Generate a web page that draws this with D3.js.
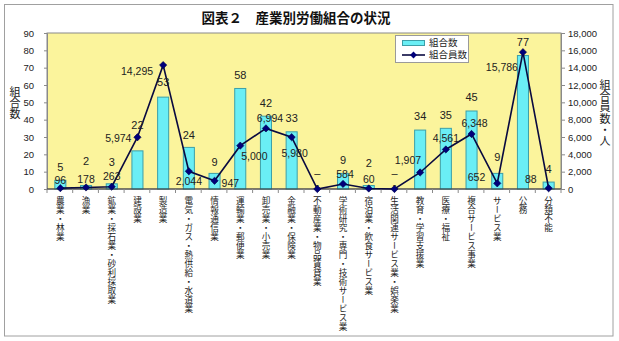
<!DOCTYPE html>
<html><head><meta charset="utf-8">
<script src="https://cdn.jsdelivr.net/npm/d3@7"></script>
<style>
html,body{margin:0;padding:0;background:#fff;}
svg{display:block;}
.cjk{font-family:"Noto Sans CJK JP","Noto Sans CJK SC",sans-serif;}
.num{font-family:"Liberation Sans",Arial,sans-serif;}
.vt{writing-mode:vertical-rl;text-orientation:upright;}
</style></head>
<body>
<svg id="c" width="619" height="341"></svg>
<script>
// ---- data ----
const title = "図表２　産業別労働組合の状況";
const categories = ["農業・林業","漁業","鉱業・採石業・砂利採取業","建設業","製造業","電気・ガス・熱供給・水道業","情報通信業","運輸業・郵便業","卸売業・小売業","金融業・保険業","不動産業・物品賃貸業","学術研究・専門・技術サービス業","宿泊業・飲食サービス業","生活関連サービス業・娯楽業","教育・学習支援業","医療・福祉","複合サービス事業","サービス業","公務","分類不能"];
const unions = [5,2,3,22,53,24,9,58,42,33,0,9,2,0,34,35,45,9,77,4];
const members = [96,178,263,5974,14295,2044,947,5000,6994,5980,0,584,60,0,1907,4561,6348,652,15786,88];
const leftTicks = [0,10,20,30,40,50,60,70,80,90];
const rightTicks = [0,2000,4000,6000,8000,10000,12000,14000,16000,18000];
const seriesNames = ["組合数","組合員数"];
const leftTitle = "組合数";
const rightTitle = "組合員数・人";

// ---- label layout (not data) ----
// member label: [anchor, dx, dy]
const memberLabelLayout = [["middle",0,-7],["middle",0,-7],["middle",0,-10],["end",-6,2],["end",-10,7],["middle",0,11],["start",7,3],["start",1,12],["middle",4,-9],["middle",3,17],["middle",0,-4],["middle",2,-9],["middle",0,-8],["middle",0,-4],["end",1,-11],["middle",0,-10],["middle",3,-10],["end",-12,-5],["end",-5,16],["end",-12,-8]];
const countLabelLift = [12,23,21,25,14,11,10,12.5,12,13,15,12,21,15,13,12,13,15,12.5,12];

const svg = d3.select("#c");
const L = 47, R = 561, T = 33, B = 189;

// outer border
svg.append("rect").attr("x",4.5).attr("y",4.5).attr("width",608.5).attr("height",331.5)
  .attr("fill","#fff").attr("stroke","#a0a0a0");

// title
svg.append("text").attr("class","cjk").attr("x",296).attr("y",23).attr("text-anchor","middle")
  .attr("font-size",13.5).attr("font-weight","bold").attr("fill","#111").text(title);

const x = d3.scaleBand().domain(categories).range([L,R]).paddingInner(0.57).paddingOuter(0.285);
const yL = d3.scaleLinear().domain([0,90]).range([B,T]);
const yR = d3.scaleLinear().domain([0,18000]).range([B,T]);

// plot area
svg.append("rect").attr("x",L).attr("y",T).attr("width",R-L).attr("height",B-T)
  .attr("fill","#fbf49c").attr("stroke","#8a8a8a");

// bars
svg.append("g").selectAll("rect").data(categories).join("rect")
  .attr("x",d=>x(d)+0.5).attr("width",x.bandwidth())
  .attr("y",(d,i)=>yL(unions[i])).attr("height",(d,i)=>B-yL(unions[i]))
  .attr("fill","#6aeef5").attr("stroke","#3d9fa8").attr("stroke-width",1);

// axes
const gl = svg.append("g").attr("transform",`translate(${L},0)`)
  .call(d3.axisLeft(yL).tickValues(leftTicks).tickSize(3).tickPadding(10));
const gr = svg.append("g").attr("transform",`translate(${R},0)`)
  .call(d3.axisRight(yR).tickValues(rightTicks).tickSize(4).tickPadding(3).tickFormat(d3.format(",")));
[gl,gr].forEach(g=>{
  g.select(".domain").attr("stroke","#8a8a8a");
  g.selectAll(".tick line").attr("stroke","#8a8a8a");
  g.selectAll(".tick text").attr("class","num").attr("font-size",9.5).attr("fill","#222");
});
gl.selectAll(".tick text").attr("text-anchor","end");

// x axis
const gx = svg.append("g").attr("transform",`translate(0,${B})`);
gx.append("line").attr("x1",L).attr("x2",R).attr("stroke","#333").attr("stroke-width",1);
const step = x.step();
gx.selectAll("line.t").data(d3.range(categories.length+1)).join("line").attr("class","t")
  .attr("x1",i=>L+i*step).attr("x2",i=>L+i*step).attr("y1",0).attr("y2",4).attr("stroke","#8a8a8a");
svg.append("g").selectAll("text").data(categories).join("text")
  .attr("class","cjk vt").attr("font-size",8.6).attr("fill","#222")
  .style("letter-spacing","0.4px")
  .attr("x",d=>x(d)+x.bandwidth()/2+0.5).attr("y",196)
  .attr("text-anchor","start")
  .text(d=>d);

// member line
const cx = i=>x(categories[i])+x.bandwidth()/2+0.5;
const line = d3.line().x((d,i)=>cx(i)).y(d=>yR(d));
svg.append("path").datum(members).attr("d",line).attr("fill","none")
  .attr("stroke","#0a0a40").attr("stroke-width",1.6);
svg.append("g").selectAll("path").data(members).join("path")
  .attr("d",d3.symbol(d3.symbolDiamond2,34)())
  .attr("transform",(d,i)=>`translate(${cx(i)},${yR(d)})`)
  .attr("fill","#00007a").attr("stroke","#00004a").attr("stroke-width",0.6);

// count labels
svg.append("g").selectAll("text").data(unions).join("text")
  .attr("class","num").attr("font-size",11).attr("fill","#222")
  .attr("text-anchor","middle").attr("dominant-baseline","middle")
  .attr("x",(d,i)=>cx(i)).attr("y",(d,i)=>yL(d)-countLabelLift[i])
  .text(d=>d===0?"–":d);

// member labels
svg.append("g").selectAll("text").data(members).join("text")
  .attr("class","num").attr("font-size",10.5).attr("fill","#222")
  .attr("dominant-baseline","middle")
  .attr("text-anchor",(d,i)=>memberLabelLayout[i][0])
  .attr("x",(d,i)=>cx(i)+memberLabelLayout[i][1]).attr("y",(d,i)=>yR(d)+memberLabelLayout[i][2])
  .text(d=>d===0?"-":d3.format(",")(d));

// axis titles
svg.append("text").attr("class","cjk vt").attr("font-size",11).attr("fill","#222")
  .attr("x",15).attr("y",103).attr("text-anchor","middle").text(leftTitle);
svg.append("text").attr("class","cjk vt").attr("font-size",11).attr("fill","#222")
  .style("letter-spacing","0.3px")
  .attr("x",605).attr("y",113).attr("text-anchor","middle").text(rightTitle);

// legend
const lg = svg.append("g");
lg.append("rect").attr("x",395.5).attr("y",35.5).attr("width",73).attr("height",27)
  .attr("fill","#fff").attr("stroke","#9a9a9a");
lg.append("rect").attr("x",402.5).attr("y",40.5).attr("width",22).attr("height",5)
  .attr("fill","#6aeef5").attr("stroke","#3d9fa8");
lg.append("text").attr("class","cjk").attr("font-size",9.5).attr("fill","#222")
  .attr("x",429).attr("y",43).attr("dominant-baseline","middle").text(seriesNames[0]);
lg.append("line").attr("x1",402).attr("x2",425).attr("y1",55).attr("y2",55)
  .attr("stroke","#0a0a40").attr("stroke-width",1.6);
lg.append("path").attr("d",d3.symbol(d3.symbolDiamond2,30)()).attr("transform","translate(413.5,55)")
  .attr("fill","#00007a");
lg.append("text").attr("class","cjk").attr("font-size",9.5).attr("fill","#222")
  .attr("x",429).attr("y",55.5).attr("dominant-baseline","middle").text(seriesNames[1]);
</script>
</body></html>
